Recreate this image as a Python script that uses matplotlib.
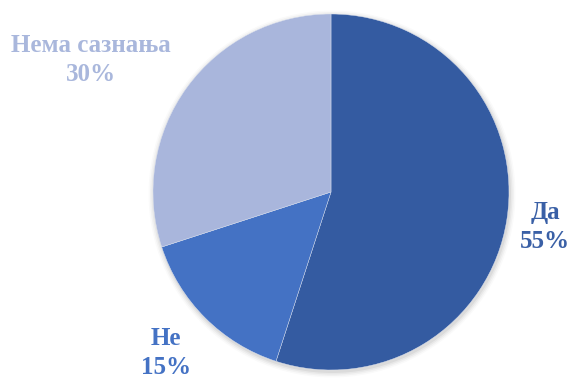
import matplotlib.pyplot as plt

plt.rcParams['font.family'] = ['Liberation Serif', 'DejaVu Serif']

labels = ['Да', 'Не', 'Нема сазнања']
shares = [55, 15, 30]
colors = ['#345ba1', '#4472c4', '#a9b6dc']
text_colors = ['#3a60a6', '#4472c4', '#a9b7dc']
# label anchor points in pixel coordinates (x, y from top)
label_pos = [(545, 227), (166, 353), (91, 60)]

W, H = 573, 379
fig = plt.figure(figsize=(W / 100, H / 100), dpi=100)
ax = fig.add_axes([0, 0, 1, 1])

cx, cy, r = 331, H - 192, 178

# soft shadow behind the pie
for i, a in enumerate([0.05, 0.04, 0.03, 0.02]):
    ax.add_patch(plt.Circle((cx + 1, cy - 2), r + 1 + i * 1.5, color='black', alpha=a, lw=0, zorder=0))

ax.pie(shares, colors=colors, startangle=90, counterclock=False,
       center=(cx, cy), radius=r, frame=True,
       wedgeprops=dict(linewidth=0.3, edgecolor='#dde3f0'))
ax.set_xlim(0, W)
ax.set_ylim(0, H)
ax.axis('off')

for lab, val, col, (x, y) in zip(labels, shares, text_colors, label_pos):
    ax.text(x, H - y, f'{lab}\n{val}%', ha='center', va='center', fontsize=18,
            fontweight='bold', color=col, linespacing=1.3)

fig.savefig('out.png', dpi=100)
